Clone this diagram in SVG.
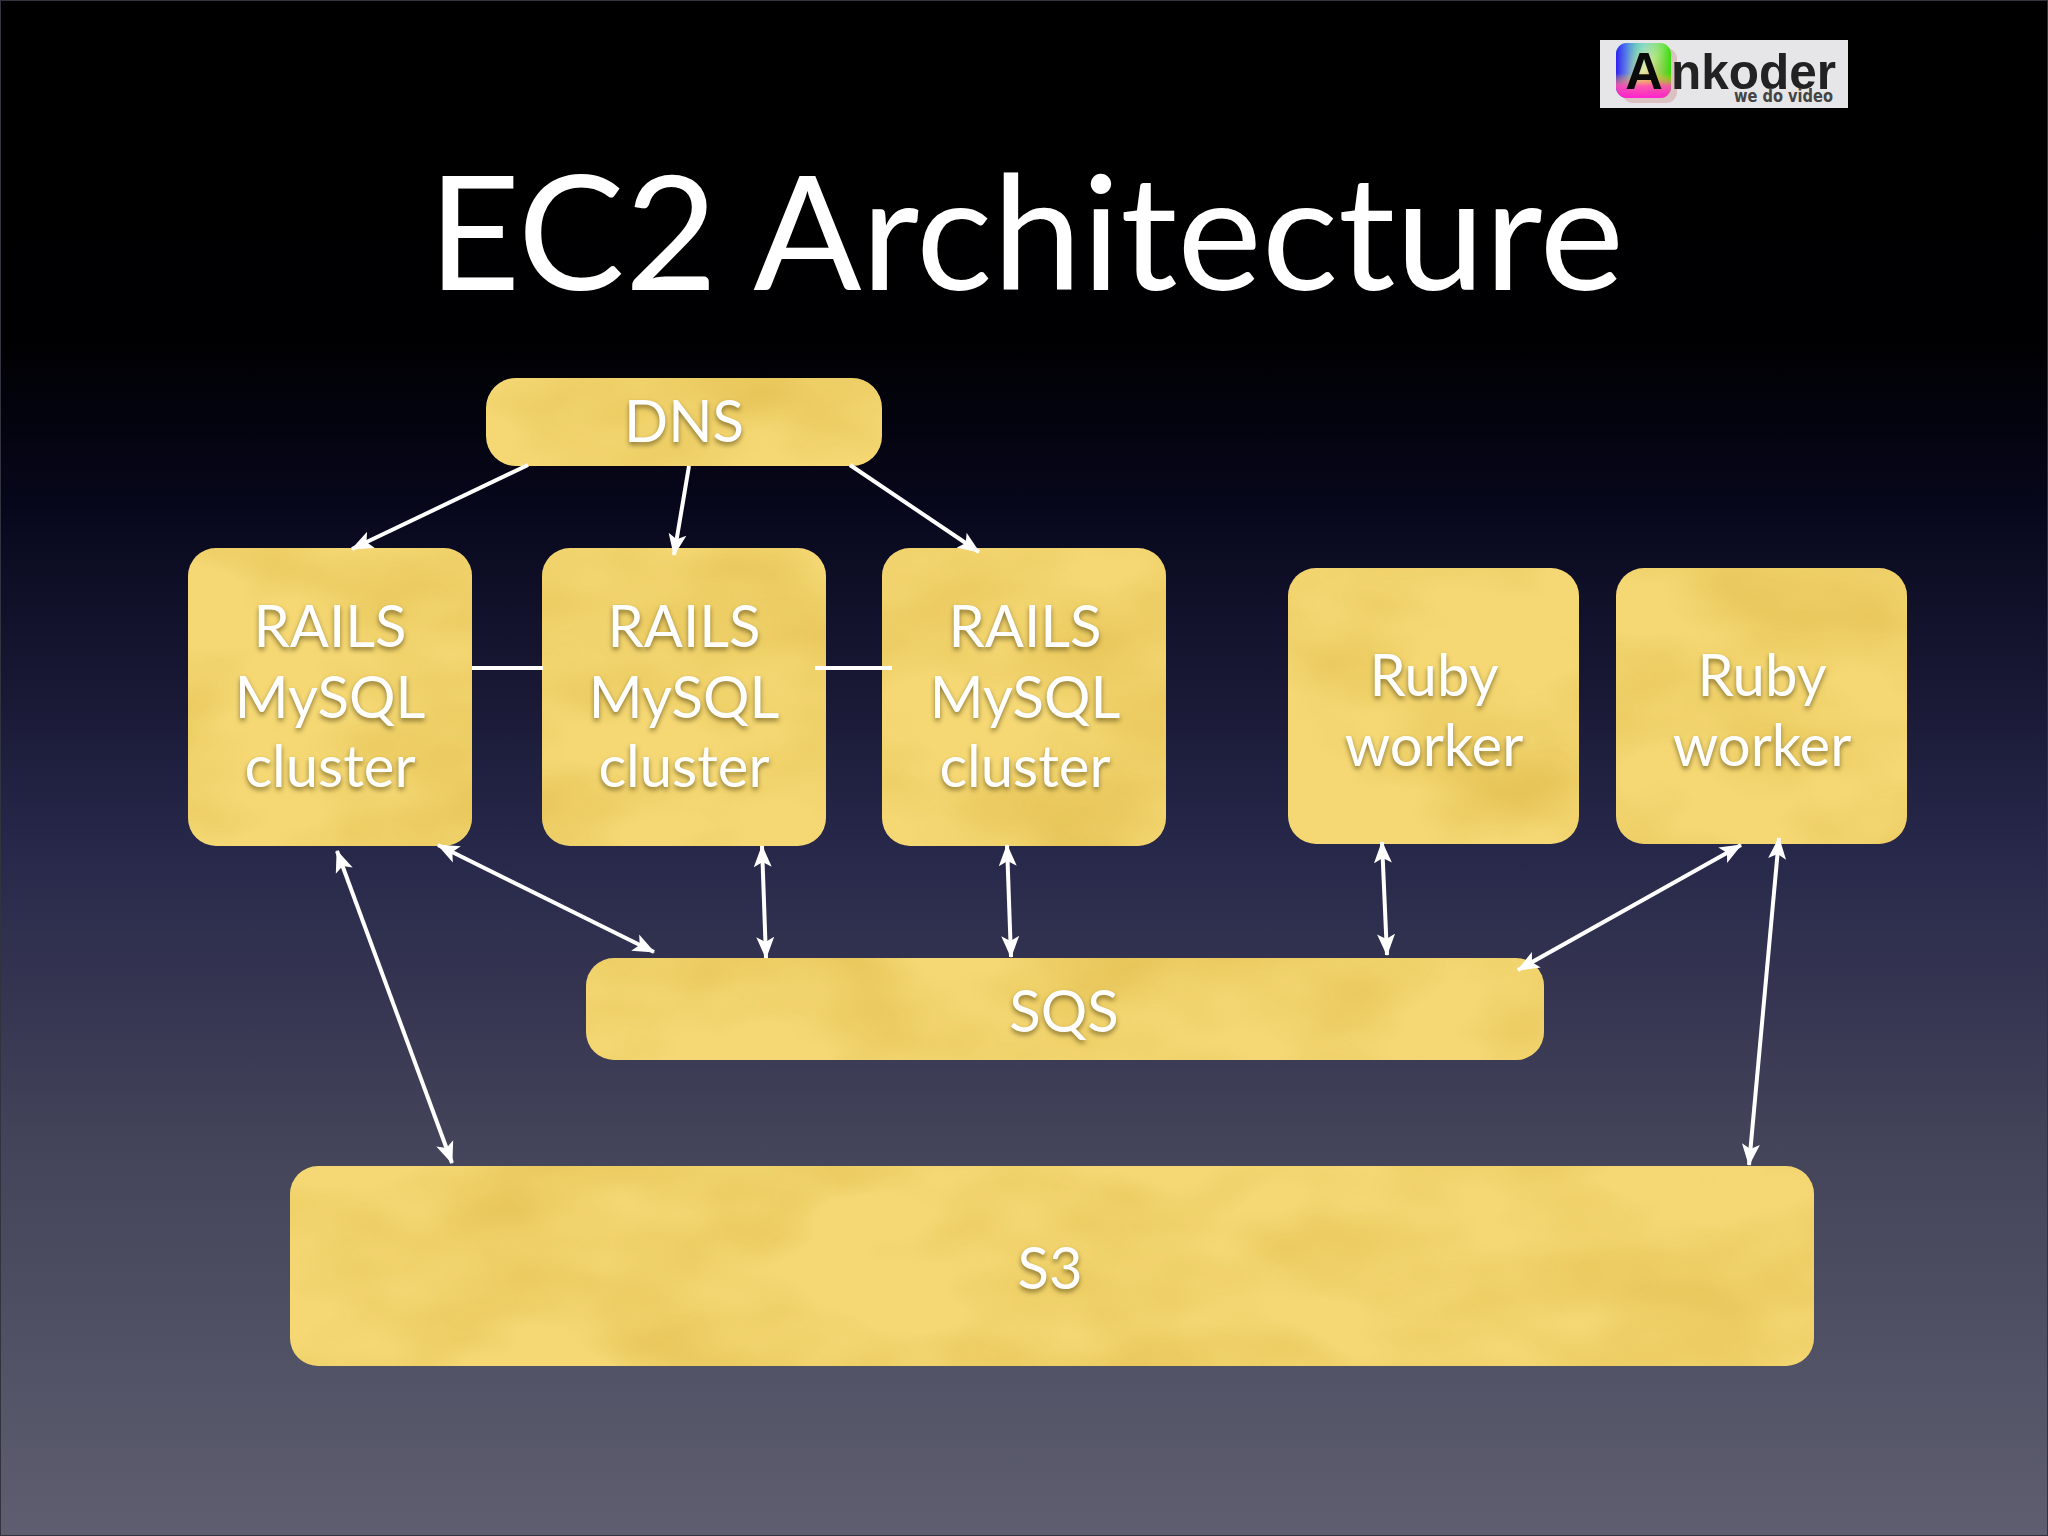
<svg xmlns="http://www.w3.org/2000/svg" width="2048" height="1536" viewBox="0 0 2048 1536">
<defs>
<linearGradient id="bg" x1="0" y1="0" x2="0" y2="1">
<stop offset="0" stop-color="#000000"/>
<stop offset="0.22" stop-color="#000002"/>
<stop offset="0.33" stop-color="#07071c"/>
<stop offset="0.55" stop-color="#27274a"/>
<stop offset="0.75" stop-color="#44445a"/>
<stop offset="1" stop-color="#5e5e70"/>
</linearGradient>
<filter id="tex" x="0" y="0" width="1" height="1" color-interpolation-filters="sRGB">
<feTurbulence type="fractalNoise" baseFrequency="0.005 0.009" numOctaves="3" seed="7" result="n"/>
<feColorMatrix in="n" type="matrix" values="0 0 0 0 0.88  0 0 0 0 0.74  0 0 0 0 0.30  1.6 0 0 0 -0.62" result="c"/>
<feComposite in="c" in2="SourceAlpha" operator="in" result="t"/>
<feMerge><feMergeNode in="SourceGraphic"/><feMergeNode in="t"/></feMerge>
</filter>
<filter id="ts" x="-10%" y="-10%" width="120%" height="130%" color-interpolation-filters="sRGB">
<feDropShadow dx="0" dy="3" stdDeviation="2.5" flood-color="#6b5a20" flood-opacity="0.75"/>
</filter>
<marker id="ah" viewBox="0 0 22 20" markerUnits="userSpaceOnUse" markerWidth="22" markerHeight="20" refX="21" refY="10" orient="auto-start-reverse">
<path d="M0 1 L22 10 L0 19 L5 10 Z" fill="#fff"/>
</marker>
<linearGradient id="rbA" x1="0" y1="0" x2="1" y2="1">
<stop offset="0" stop-color="#18c8f0"/><stop offset="0.5" stop-color="#e8e8a0"/><stop offset="1" stop-color="#ff6020"/>
</linearGradient>
<linearGradient id="rbB" x1="0" y1="0" x2="1" y2="0">
<stop offset="0" stop-color="#3020f0"/><stop offset="0.18" stop-color="#5060f0" stop-opacity="0.8"/><stop offset="0.5" stop-color="#80e080" stop-opacity="0"/><stop offset="1" stop-color="#20e000" stop-opacity="0.9"/>
</linearGradient>
<linearGradient id="rbC" x1="0" y1="0" x2="0" y2="1">
<stop offset="0" stop-color="#20f0d0" stop-opacity="0"/><stop offset="0.55" stop-color="#ffe000" stop-opacity="0"/><stop offset="0.78" stop-color="#ff50b0" stop-opacity="0.9"/><stop offset="1" stop-color="#ff20d0"/>
</linearGradient>
<style>
.n{fill:#f5d874;filter:url(#tex)}
.t{font-family:"Lato","Liberation Sans",sans-serif;font-size:58px;fill:#fff;text-anchor:middle;filter:url(#ts)}
.c{stroke:#fff;stroke-width:4;fill:none}
.a{marker-end:url(#ah)}
.b{marker-start:url(#ah);marker-end:url(#ah)}
</style>
</defs>
<rect id="background" width="2048" height="1536" fill="url(#bg)"/>
<rect x="0.5" y="0.5" width="2047" height="1535" fill="none" stroke="#333340" stroke-width="1"/>

<g id="logo">
<rect x="1600" y="40" width="248" height="68" fill="#e6e6e8"/>
<rect x="1622" y="48" width="55" height="55" rx="11" fill="#d8b8b8" opacity="0.8"/>
<rect x="1616" y="43" width="55" height="55" rx="11" fill="url(#rbA)"/>
<rect x="1616" y="43" width="55" height="55" rx="11" fill="url(#rbB)"/>
<rect x="1616" y="43" width="55" height="55" rx="11" fill="url(#rbC)"/>
<text x="1644" y="89" font-family="Liberation Sans, sans-serif" font-weight="700" font-size="52" fill="#0a0a0a" text-anchor="middle">A</text>
<text x="1671" y="89" font-family="Liberation Sans, sans-serif" font-weight="700" font-size="50" fill="#222" textLength="165" lengthAdjust="spacingAndGlyphs">nkoder</text>
<text x="1734" y="102" font-family="DejaVu Sans, sans-serif" font-size="18" font-weight="700" fill="#444" textLength="99" lengthAdjust="spacingAndGlyphs">we do video</text>
</g>

<text id="title" x="1026" y="290" font-family="Lato, Liberation Sans, sans-serif" font-size="160" fill="#fff" text-anchor="middle">EC2 Architecture</text>

<g id="n-dns"><rect class="n" x="486" y="378" width="396" height="88" rx="30"/><text class="t" x="684" y="442">DNS</text></g>

<g id="n-rails1"><rect class="n" x="188" y="548" width="284" height="298" rx="28"/>
<text class="t" x="330" y="647">RAILS</text><text class="t" x="330" y="718">MySQL</text><text class="t" x="330" y="787">cluster</text></g>
<g id="n-rails2"><rect class="n" x="542" y="548" width="284" height="298" rx="28"/>
<text class="t" x="684" y="647">RAILS</text><text class="t" x="684" y="718">MySQL</text><text class="t" x="684" y="787">cluster</text></g>
<g id="n-rails3"><rect class="n" x="882" y="548" width="284" height="298" rx="28"/>
<text class="t" x="1025" y="647">RAILS</text><text class="t" x="1025" y="718">MySQL</text><text class="t" x="1025" y="787">cluster</text></g>

<g id="n-ruby1"><rect class="n" x="1288" y="568" width="291" height="276" rx="28"/>
<text class="t" x="1434" y="696">Ruby</text><text class="t" x="1434" y="766">worker</text></g>
<g id="n-ruby2"><rect class="n" x="1616" y="568" width="291" height="276" rx="28"/>
<text class="t" x="1762" y="696">Ruby</text><text class="t" x="1762" y="766">worker</text></g>

<g id="n-sqs"><rect class="n" x="586" y="958" width="958" height="102" rx="28"/><text class="t" x="1064" y="1032">SQS</text></g>
<g id="n-s3"><rect class="n" x="290" y="1166" width="1524" height="200" rx="28"/><text class="t" x="1050" y="1289">S3</text></g>

<g id="connectors">
<line class="c a" x1="528" y1="465" x2="352" y2="549"/>
<line class="c a" x1="689" y1="466" x2="674" y2="555"/>
<line class="c a" x1="850" y1="465" x2="979" y2="552"/>
<line class="c" x1="472" y1="668" x2="543" y2="668"/>
<line class="c" x1="815" y1="668" x2="892" y2="668"/>
<line class="c b" x1="337" y1="851" x2="452" y2="1163"/>
<line class="c b" x1="438" y1="845" x2="654" y2="952"/>
<line class="c b" x1="762" y1="846" x2="766" y2="958"/>
<line class="c b" x1="1007" y1="845" x2="1011" y2="957"/>
<line class="c b" x1="1382" y1="842" x2="1387" y2="955"/>
<line class="c b" x1="1741" y1="845" x2="1518" y2="970"/>
<line class="c b" x1="1779" y1="838" x2="1749" y2="1165"/>
</g>
</svg>
